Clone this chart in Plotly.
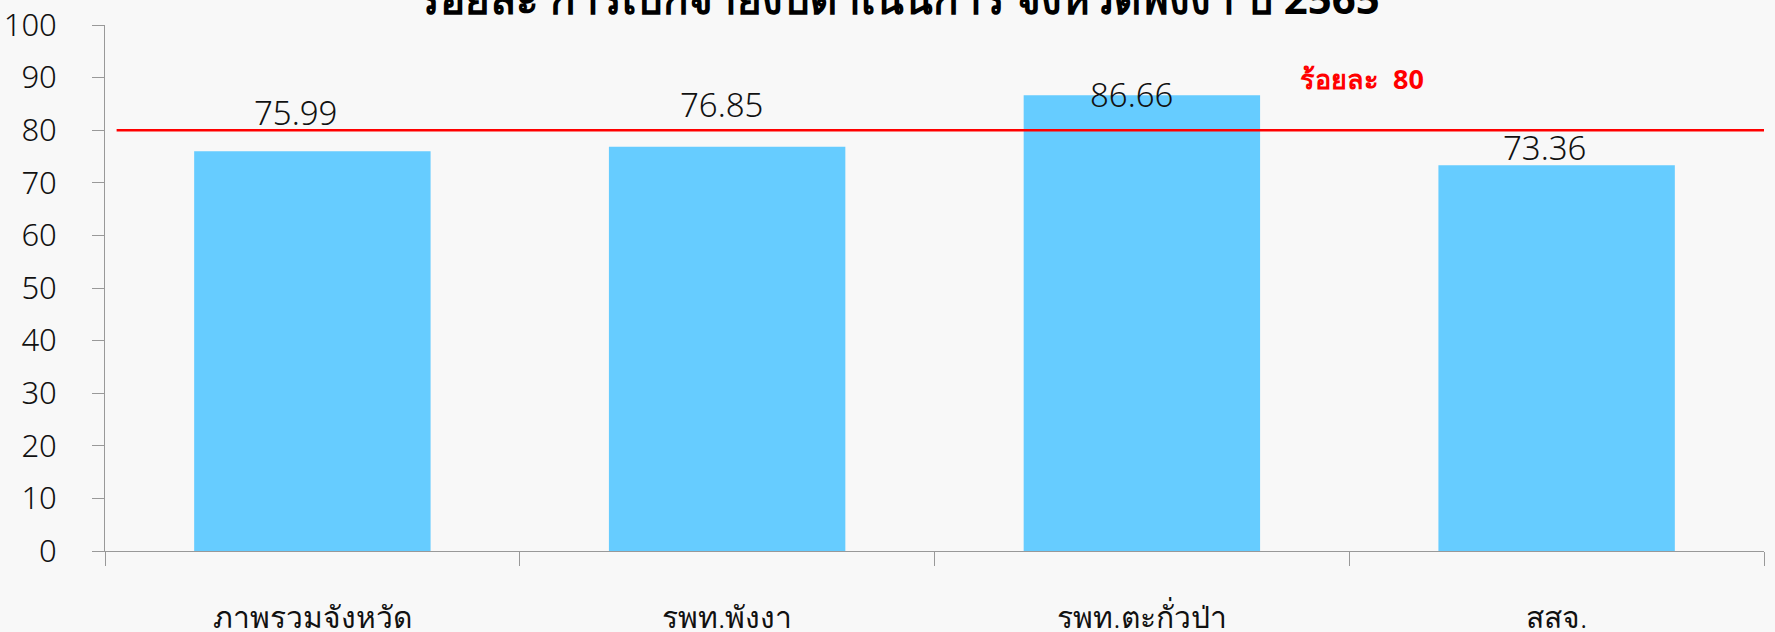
import plotly.graph_objects as go

categories = ["ภาพรวมจังหวัด", "รพท.พังงา", "รพท.ตะกั่วป่า", "สสจ."]
values = [75.99, 76.85, 86.66, 73.36]
target = 80
target_label = "ร้อยละ  80"
title_text = "ร้อยละ การเบิกจ่ายงบดำเนินการ จังหวัดพังงา ปี 2565"
y_ticks = [0, 10, 20, 30, 40, 50, 60, 70, 80, 90, 100]

FONT = "Noto Sans"
label_yshift = [39, 42, 1, 18]
label_xshift = [-17, -6, -10, -12]

fig = go.Figure()
fig.add_trace(go.Bar(x=categories, y=values, marker=dict(color="#66CCFF", line=dict(width=0)),
                     width=0.57, hoverinfo="x+y"))

for c, v, sy, sx in zip(categories, values, label_yshift, label_xshift):
    fig.add_annotation(x=c, y=v, text=f"{v:.2f}", showarrow=False, yanchor="middle",
                       yshift=sy, xshift=sx,
                       font=dict(family=FONT, size=33, color="#111111", weight=300))

fig.add_shape(type="line", xref="paper", x0=0.007, x1=1, yref="y", y0=target, y1=target,
              line=dict(color="#FF0000", width=2.5))
fig.add_annotation(xref="x", x=2.53, y=target, yshift=52, text=f"<b>{target_label}</b>",
                   showarrow=False, font=dict(family=FONT, size=27, color="#FF0000"))

# chart title (partially clipped at top as in the reference)
fig.add_annotation(xref="paper", yref="paper", x=0.478, y=1, yanchor="middle", yshift=28,
                   text=f"<b>{title_text}</b>", showarrow=False,
                   font=dict(family=FONT, size=42, color="#000000"))

fig.update_layout(
    width=1775, height=632,
    paper_bgcolor="#F8F8F8", plot_bgcolor="#F8F8F8",
    margin=dict(l=105, r=11, t=25, b=81, autoexpand=False),
    showlegend=False,
    bargap=0.43,
)
fig.update_xaxes(showline=True, linecolor="#999999", linewidth=1, ticks="outside",
                 tickson="boundaries", ticklen=14, tickcolor="#999999",
                 tickfont=dict(family=FONT, size=30, color="#111111", weight=300),
                 ticklabelstandoff=40, showgrid=False, range=[-0.5, 3.5], automargin=False)
fig.update_yaxes(range=[0, 100], tickvals=y_ticks, showline=True, linecolor="#999999",
                 linewidth=1, ticks="outside", ticklen=12, tickcolor="#999999",
                 tickfont=dict(family=FONT, size=31, color="#111111", weight=300),
                 ticklabelstandoff=29, showgrid=False, zeroline=False, automargin=False)

fig.write_html("out.html", config={"displayModeBar": False},
               post_script="document.body.style.margin='0';"
                           "document.body.style.background='#F8F8F8';")
